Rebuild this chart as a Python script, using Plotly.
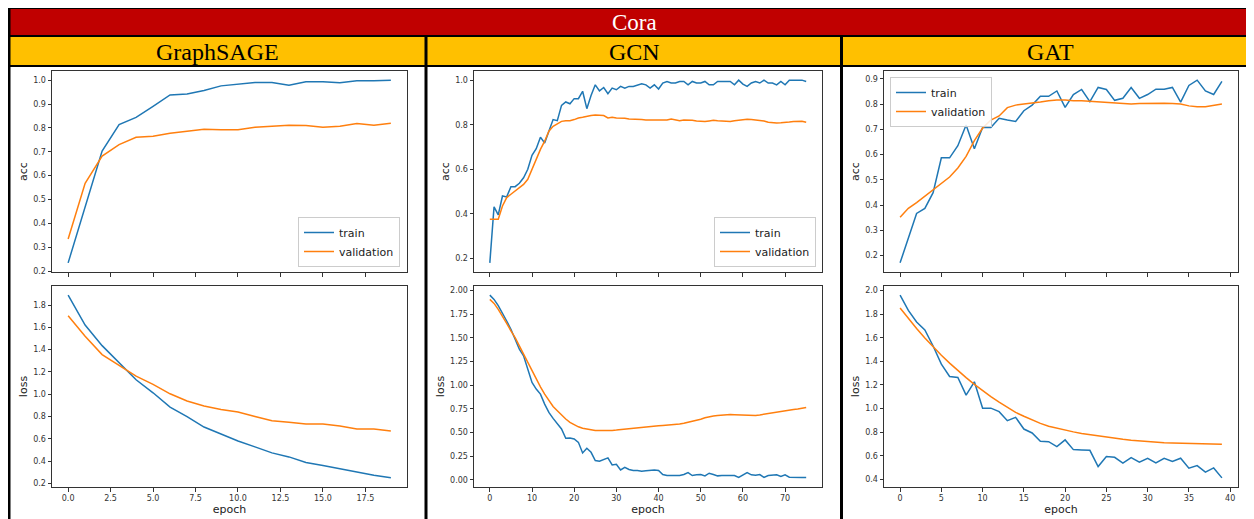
import plotly.graph_objects as go

W, H = 1254, 519
OFF = 8                      # page body margin of the html page
FW, FH = W - OFF, H - OFF    # figure size so it fills the window exactly

# ---------------- data ----------------
sage_epochs = list(range(20))
sage_acc_train = [0.235, 0.47, 0.703, 0.814, 0.844, 0.89, 0.938, 0.942, 0.957, 0.976,
                  0.983, 0.99, 0.99, 0.979, 0.993, 0.993, 0.989, 0.997, 0.997, 1.0]
sage_acc_val = [0.335, 0.568, 0.682, 0.73, 0.761, 0.765, 0.778, 0.785, 0.794, 0.792,
                0.792, 0.803, 0.806, 0.811, 0.81, 0.803, 0.807, 0.818, 0.811, 0.819]
sage_loss_train = [1.889, 1.621, 1.436, 1.28, 1.13, 1.013, 0.885, 0.80, 0.706, 0.644,
                   0.581, 0.528, 0.474, 0.438, 0.388, 0.361, 0.331, 0.304, 0.274, 0.25]
sage_loss_val = [1.705, 1.52, 1.356, 1.255, 1.162, 1.088, 1.004, 0.939, 0.894, 0.864,
                 0.84, 0.80, 0.763, 0.748, 0.733, 0.733, 0.715, 0.689, 0.689, 0.671]

gcn_epochs = list(range(76))
gcn_acc_train = [0.18, 0.431, 0.395, 0.48, 0.476, 0.522, 0.522, 0.537, 0.562, 0.60,
                 0.663, 0.692, 0.744, 0.718, 0.771, 0.823, 0.818, 0.887, 0.902, 0.894,
                 0.917, 0.917, 0.95, 0.872, 0.931, 0.979, 0.952, 0.967, 0.939, 0.964,
                 0.957, 0.972, 0.964, 0.972, 0.972, 0.979, 0.984, 0.979, 0.964, 0.979,
                 0.96, 0.987, 0.994, 0.987, 0.987, 0.994, 0.994, 0.979, 0.994, 0.987,
                 0.987, 0.994, 0.979, 0.979, 0.994, 0.994, 0.994, 0.994, 0.979, 1.0,
                 0.982, 0.972, 0.987, 0.994, 0.987, 1.0, 0.987, 0.987, 0.979, 0.994,
                 0.979, 1.0, 1.0, 1.0, 1.0, 0.994]
gcn_acc_val = [0.376, 0.376, 0.376, 0.435, 0.473, 0.488, 0.502, 0.517, 0.532, 0.555,
               0.60, 0.644, 0.689, 0.726, 0.771, 0.793, 0.805, 0.815, 0.818, 0.818,
               0.823, 0.83, 0.833, 0.838, 0.841, 0.844, 0.844, 0.841, 0.83, 0.833,
               0.83, 0.83, 0.829, 0.826, 0.826, 0.826, 0.823, 0.821, 0.821, 0.821,
               0.821, 0.821, 0.821, 0.826, 0.823, 0.818, 0.821, 0.821, 0.82, 0.817,
               0.814, 0.814, 0.817, 0.82, 0.818, 0.817, 0.815, 0.814, 0.818, 0.821,
               0.821, 0.824, 0.823, 0.821, 0.82, 0.817, 0.811, 0.808, 0.808, 0.809,
               0.812, 0.812, 0.814, 0.814, 0.815, 0.811]
gcn_loss_train = [1.95, 1.905, 1.84, 1.765, 1.677, 1.59, 1.484, 1.379, 1.309, 1.168,
                  1.028, 0.958, 0.905, 0.80, 0.712, 0.649, 0.589, 0.537, 0.439, 0.442,
                  0.432, 0.396, 0.284, 0.333, 0.291, 0.204, 0.196, 0.21, 0.232, 0.158,
                  0.165, 0.105, 0.133, 0.109, 0.098, 0.098, 0.091, 0.095, 0.098, 0.105,
                  0.098, 0.056, 0.046, 0.049, 0.046, 0.046, 0.056, 0.077, 0.046, 0.053,
                  0.056, 0.042, 0.07, 0.056, 0.042, 0.046, 0.046, 0.039, 0.046, 0.025,
                  0.049, 0.077, 0.053, 0.049, 0.056, 0.025, 0.046, 0.046, 0.053, 0.035,
                  0.053, 0.028, 0.025, 0.021, 0.025, 0.025]
gcn_loss_val = [1.905, 1.863, 1.80, 1.73, 1.653, 1.572, 1.502, 1.414, 1.326, 1.239,
                1.151, 1.063, 0.982, 0.905, 0.835, 0.775, 0.73, 0.684, 0.642, 0.607,
                0.58, 0.56, 0.545, 0.535, 0.527, 0.522, 0.52, 0.519, 0.52, 0.522,
                0.525, 0.53, 0.537, 0.545, 0.55, 0.553, 0.556, 0.56, 0.565, 0.57,
                0.572, 0.575, 0.577, 0.58, 0.585, 0.59, 0.598, 0.607, 0.617, 0.628,
                0.64, 0.655, 0.668, 0.675, 0.68, 0.685, 0.688, 0.69, 0.688, 0.686,
                0.685, 0.68, 0.678, 0.68, 0.685, 0.693, 0.70, 0.707, 0.713, 0.72,
                0.728, 0.735, 0.742, 0.748, 0.755, 0.765]

gat_epochs = list(range(40))
gat_acc_train = [0.171, 0.266, 0.367, 0.387, 0.449, 0.587, 0.587, 0.635, 0.717, 0.623,
                 0.707, 0.707, 0.744, 0.737, 0.731, 0.774, 0.796, 0.831, 0.831, 0.852,
                 0.787, 0.838, 0.858, 0.81, 0.866, 0.858, 0.815, 0.823, 0.866, 0.823,
                 0.838, 0.859, 0.859, 0.866, 0.808, 0.874, 0.895, 0.852, 0.838, 0.89]
gat_acc_val = [0.352, 0.387, 0.41, 0.436, 0.462, 0.488, 0.511, 0.547, 0.593, 0.655,
               0.705, 0.737, 0.753, 0.786, 0.796, 0.80, 0.803, 0.808, 0.813, 0.816,
               0.816, 0.813, 0.813, 0.811, 0.808, 0.808, 0.806, 0.803, 0.80, 0.802,
               0.803, 0.803, 0.803, 0.802, 0.80, 0.793, 0.79, 0.79, 0.794, 0.80]
gat_loss_train = [1.96, 1.831, 1.733, 1.665, 1.53, 1.376, 1.272, 1.263, 1.114, 1.227,
                  1.004, 1.004, 0.974, 0.898, 0.926, 0.827, 0.794, 0.723, 0.72, 0.678,
                  0.735, 0.653, 0.65, 0.647, 0.51, 0.594, 0.588, 0.538, 0.585, 0.546,
                  0.58, 0.54, 0.58, 0.552, 0.58, 0.496, 0.518, 0.462, 0.498, 0.414]
gat_loss_val = [1.851, 1.762, 1.678, 1.598, 1.522, 1.452, 1.385, 1.322, 1.262, 1.205,
                1.152, 1.102, 1.055, 1.01, 0.968, 0.935, 0.903, 0.875, 0.851, 0.833,
                0.817, 0.803, 0.79, 0.779, 0.768, 0.758, 0.749, 0.741, 0.733, 0.726,
                0.72, 0.715, 0.711, 0.708, 0.706, 0.704, 0.702, 0.70, 0.699, 0.698]

dataset_title = "Cora"
model_names = ["GraphSAGE", "GCN", "GAT"]
series_names = ["train", "validation"]

# ---------------- styling / layout helpers ----------------
BLUE = "#1f77b4"
ORANGE = "#ff7f0e"
RED = "#C00000"
GOLD = "#FFC000"
TICK_FONT = dict(family="DejaVu Sans", size=8, color="#333333")
LABEL_FONT = dict(family="DejaVu Sans", size=11, color="#222222")


def px(xp):
    """window pixel x -> paper x"""
    return (xp - OFF) / FW


def py(yp):
    """window pixel y -> paper y"""
    return 1 - (yp - OFF) / FH


def data_range(*series):
    lo = min(min(s) for s in series)
    hi = max(max(s) for s in series)
    pad = 0.05 * (hi - lo)
    return [lo - pad, hi + pad]


panels = [
    dict(name="GraphSAGE", epochs=sage_epochs,
         acc=(sage_acc_train, sage_acc_val), loss=(sage_loss_train, sage_loss_val),
         xpx=(52, 407), xdtick=2.5, xfmt=".1f",
         acc_tick=(0.2, 0.1, ".1f"), loss_tick=(0.2, 0.2, ".1f"),
         legend=dict(x=px(400), y=py(267), xanchor="right", yanchor="bottom")),
    dict(name="GCN", epochs=gcn_epochs,
         acc=(gcn_acc_train, gcn_acc_val), loss=(gcn_loss_train, gcn_loss_val),
         xpx=(474, 822), xdtick=10, xfmt="d",
         acc_tick=(0.2, 0.2, ".1f"), loss_tick=(0.0, 0.25, ".2f"),
         legend=dict(x=px(816), y=py(267), xanchor="right", yanchor="bottom")),
    dict(name="GAT", epochs=gat_epochs,
         acc=(gat_acc_train, gat_acc_val), loss=(gat_loss_train, gat_loss_val),
         xpx=(884, 1238), xdtick=5, xfmt="d",
         acc_tick=(0.2, 0.1, ".1f"), loss_tick=(0.4, 0.2, ".1f"),
         legend=dict(x=px(890), y=py(77), xanchor="left", yanchor="top")),
]

TOP_Y = (71, 272)
BOT_Y = (286, 487)

fig = go.Figure()
layout = dict(
    width=FW, height=FH,
    margin=dict(l=0, r=0, t=0, b=0),
    paper_bgcolor="white", plot_bgcolor="white",
    showlegend=True,
)

axis_common = dict(
    showline=True, linecolor="#333333", linewidth=1, mirror=True,
    ticks="outside", ticklen=3.5, tickwidth=0.8, tickcolor="#333333",
    tickfont=TICK_FONT, showgrid=False, zeroline=False, automargin=False,
)

ax_i = 0
for p_i, p in enumerate(panels):
    legend_key = "legend" if p_i == 0 else f"legend{p_i + 1}"
    xr = data_range(p["epochs"])
    for row, (kind, ypx) in enumerate([("acc", TOP_Y), ("loss", BOT_Y)]):
        ax_i += 1
        xa = "x" if ax_i == 1 else f"x{ax_i}"
        ya = "y" if ax_i == 1 else f"y{ax_i}"
        xkey = "xaxis" if ax_i == 1 else f"xaxis{ax_i}"
        ykey = "yaxis" if ax_i == 1 else f"yaxis{ax_i}"
        train, val = p[kind]
        for s_i, (vals, color) in enumerate([(train, BLUE), (val, ORANGE)]):
            fig.add_trace(go.Scatter(
                x=p["epochs"], y=vals, mode="lines",
                line=dict(color=color, width=1.5),
                name=series_names[s_i], xaxis=xa, yaxis=ya,
                legend=legend_key, showlegend=(kind == "acc"),
            ))
        t0, dt, fmt = p["acc_tick"] if kind == "acc" else p["loss_tick"]
        layout[xkey] = dict(
            axis_common, domain=[px(p["xpx"][0]), px(p["xpx"][1])],
            anchor=ya, range=xr, tick0=0, dtick=p["xdtick"], tickformat=p["xfmt"],
            showticklabels=(kind == "loss"),
            title=dict(text="epoch" if kind == "loss" else "", font=LABEL_FONT, standoff=3),
        )
        layout[ykey] = dict(
            axis_common, domain=[py(ypx[1]), py(ypx[0])],
            anchor=xa, range=data_range(train, val), tick0=t0, dtick=dt, tickformat=fmt,
            title=dict(text=kind, font=LABEL_FONT, standoff=3),
        )
    layout[legend_key] = dict(
        p["legend"], bgcolor="rgba(255,255,255,0.85)", bordercolor="#cccccc",
        borderwidth=1, font=dict(family="DejaVu Sans", size=11, color="#222222"),
        tracegroupgap=0, itemwidth=30,
    )

# ---------------- table frame ----------------
shapes = []


def rect(x0, y0, x1, y1, color):
    shapes.append(dict(type="rect", xref="paper", yref="paper",
                       x0=px(x0), x1=px(x1), y0=py(y1), y1=py(y0),
                       fillcolor=color, line=dict(width=0), layer="below"))


rect(10, 9, 1260, 35, RED)
rect(10, 37, 1260, 65, GOLD)
rect(8, 6, 1260, 9, "black")       # top border
rect(8, 35, 1260, 37, "black")
rect(8, 65, 1260, 67, "black")
rect(8, 6, 10.5, 525, "black")     # left border
rect(424.5, 35, 427.5, 525, "black")
rect(840, 35, 843, 525, "black")
layout["shapes"] = shapes

annotations = [
    dict(text=dataset_title, x=px(634), y=py(22), xref="paper", yref="paper",
         showarrow=False, xanchor="center", yanchor="middle",
         font=dict(family="Liberation Serif", size=23, color="white")),
]
for name, cx in zip(model_names, [217, 634, 1050]):
    annotations.append(dict(text=name, x=px(cx), y=py(51.5), xref="paper", yref="paper",
                            showarrow=False, xanchor="center", yanchor="middle",
                            font=dict(family="Liberation Serif", size=24, color="black")))
layout["annotations"] = annotations

fig.update_layout(**layout)
fig.write_html("out.html")
